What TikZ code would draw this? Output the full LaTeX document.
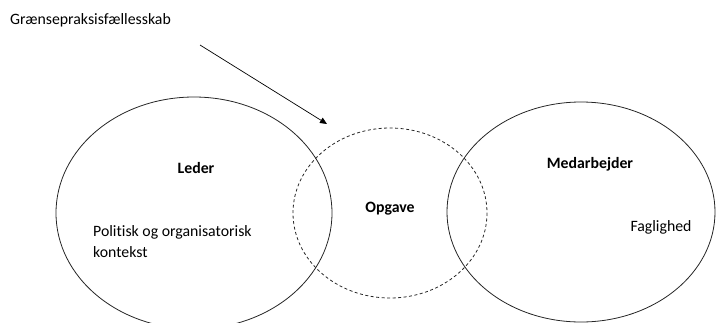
\documentclass[tikz,border=0pt]{standalone}
\usepackage{fontspec}
\setmainfont{Carlito}[Ligatures=NoCommon]
\usetikzlibrary{arrows.meta}
\begin{document}
\begin{tikzpicture}[x=1pt,y=-1pt,
  lbl/.style={font=\fontsize{15.8}{20.5}\selectfont, inner sep=0pt},
  title/.style={font=\fontsize{15.8}{20.5}\selectfont\bfseries, inner sep=0pt},
  ring/.style={draw=black!85, line width=0.8pt},
  overlap/.style={draw=black!85, line width=0.8pt, dashed, dash pattern=on 3pt off 2.5pt}]
\useasboundingbox (0,0) rectangle (716,322);
\begin{scope}
\clip (0,0) rectangle (716,322);
% the three fields
\draw[ring] (194,213) ellipse [x radius=138, y radius=116];
\draw[overlap] (390,213) ellipse [x radius=97, y radius=85];
\draw[ring] (581,212) ellipse [x radius=134, y radius=110];
\end{scope}
% labels
\node[lbl, anchor=west] (gpf) at (10,20) {Grænsepraksisfællesskab};
\node[title] (leder) at (196,168) {Leder};
\node[lbl, anchor=base west, align=left] (ctx) at (93,257) {Politisk og organisatorisk\\kontekst};
\node[title] (opgave) at (390,209) {Opgave};
\node[title] (medarb) at (590,164) {Medarbejder};
\node[lbl] (fag) at (661,227) {Faglighed};
% pointer to the shared area
\coordinate (from) at (200,45);
\coordinate (to) at (327,124);
\draw[line width=0.7pt, -{Triangle[length=7pt,width=6pt]}] (from) -- (to);
\end{tikzpicture}
\end{document}
